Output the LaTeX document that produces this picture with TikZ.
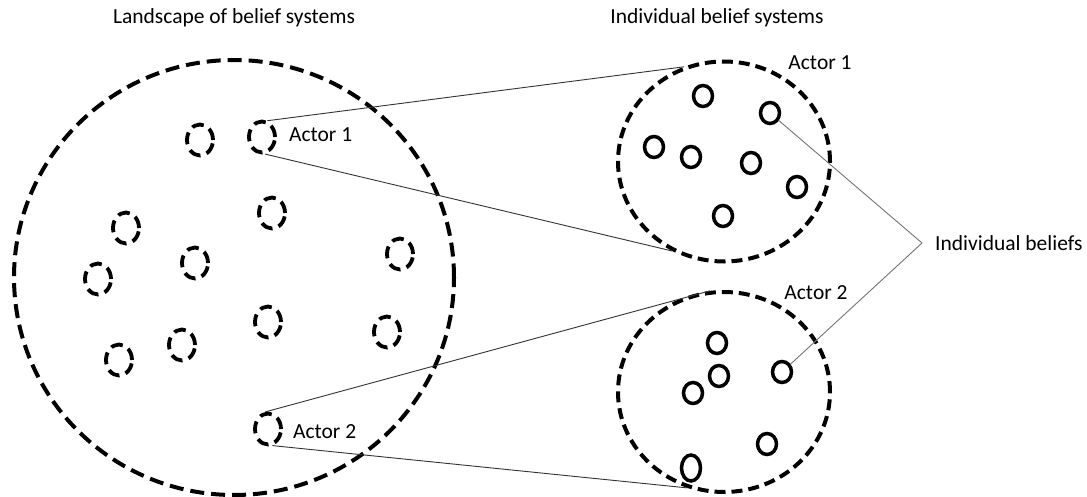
\documentclass[tikz,border=0pt]{standalone}
\usepackage{fontspec}
\setmainfont{Carlito}
\usetikzlibrary{positioning, shapes.geometric}
\tikzset{
	node distance=12pt,
	txt/.style= {
		font=\fontsize{21.5}{26}\selectfont,
		inner sep=0
	},
	landscape/.style= {
		ellipse, draw, line width=4pt,
		dash pattern=on 14pt off 7pt,
		minimum width=440pt, minimum height=435pt
	},
	system/.style= {
		ellipse, draw, line width=4pt,
		dash pattern=on 11pt off 6pt,
		minimum width=212pt, minimum height=200pt
	},
	actor/.style= {
		ellipse, draw, line width=3.8pt, inner sep=0,
		dash pattern=on 12pt off 6.5pt,
		minimum width=26pt, minimum height=31pt
	},
	belief/.style= {
		ellipse, draw, line width=3.5pt, inner sep=0,
		minimum width=19pt, minimum height=21pt
	},
	link/.style={black!80, line width=0.9pt},
	pointer/.style={black!55, line width=0.9pt},
}

\begin{document}
\begin{tikzpicture}[x=1pt, y=-1pt]
		\useasboundingbox (0,0) rectangle (1087,497);

		% titles
		\node (landtitle) [txt] at (234,18) {Landscape of belief systems};
		\node (indtitle) [txt] at (717,18) {Individual belief systems};

		% landscape
		\node (land) [landscape] at (234,277.5) {};
		\node (l1) [actor] at (200,140) {};
		\node (actor1) [actor] at (262,137) {};
		\node (l2) [actor] at (272,213) {};
		\node (l3) [actor] at (126,228) {};
		\node (l4) [actor] at (195,263) {};
		\node (l5) [actor] at (98,279) {};
		\node (l6) [actor] at (400,254) {};
		\node (l7) [actor] at (268,322) {};
		\node (l8) [actor] at (387,332) {};
		\node (l9) [actor] at (182,345) {};
		\node (l10) [actor] at (119,360) {};
		\node (actor2) [actor] at (268,429) {};
		\node (a1lab) [txt, right=of actor1, yshift=2pt] {Actor 1};
		\node (a2lab) [txt, right=10pt of actor2, yshift=-3pt] {Actor 2};

		% individual systems
		\node (sys1) [system] at (724,161.5) {};
		\node (s1a) [belief] at (703,96) {};
		\node (s1b) [belief] at (770,113) {};
		\node (s1c) [belief] at (654,147) {};
		\node (s1d) [belief] at (691,157) {};
		\node (s1e) [belief] at (751,163) {};
		\node (s1f) [belief] at (797,187) {};
		\node (s1g) [belief] at (723,216) {};
		\node (s1lab) [txt] at (820,63) {Actor 1};

		\node (sys2) [system] at (724,392) {};
		\node (s2a) [belief] at (717,343) {};
		\node (s2b) [belief] at (719,376) {};
		\node (s2c) [belief] at (693,393) {};
		\node (s2d) [belief] at (782,372) {};
		\node (s2e) [belief] at (767,444) {};
		\node (s2f) [belief, minimum height=26pt] at (691,468) {};
		\node (s2lab) [txt] at (816,293) {Actor 2};

		\coordinate (tip) at (922,243);
		\node (ib) [txt, right=13pt of tip] {Individual beliefs};

		\draw[link] (actor1.72) to (sys1.113);
		\draw[link] (actor1.280) to (sys1.240);
		\draw[link] (actor2.99) to (sys2.98);
		\draw[link] (actor2.285) to (sys2.249);
		\draw[pointer] (s1b) to (tip) to (s2d);
	\end{tikzpicture}
\end{document}
